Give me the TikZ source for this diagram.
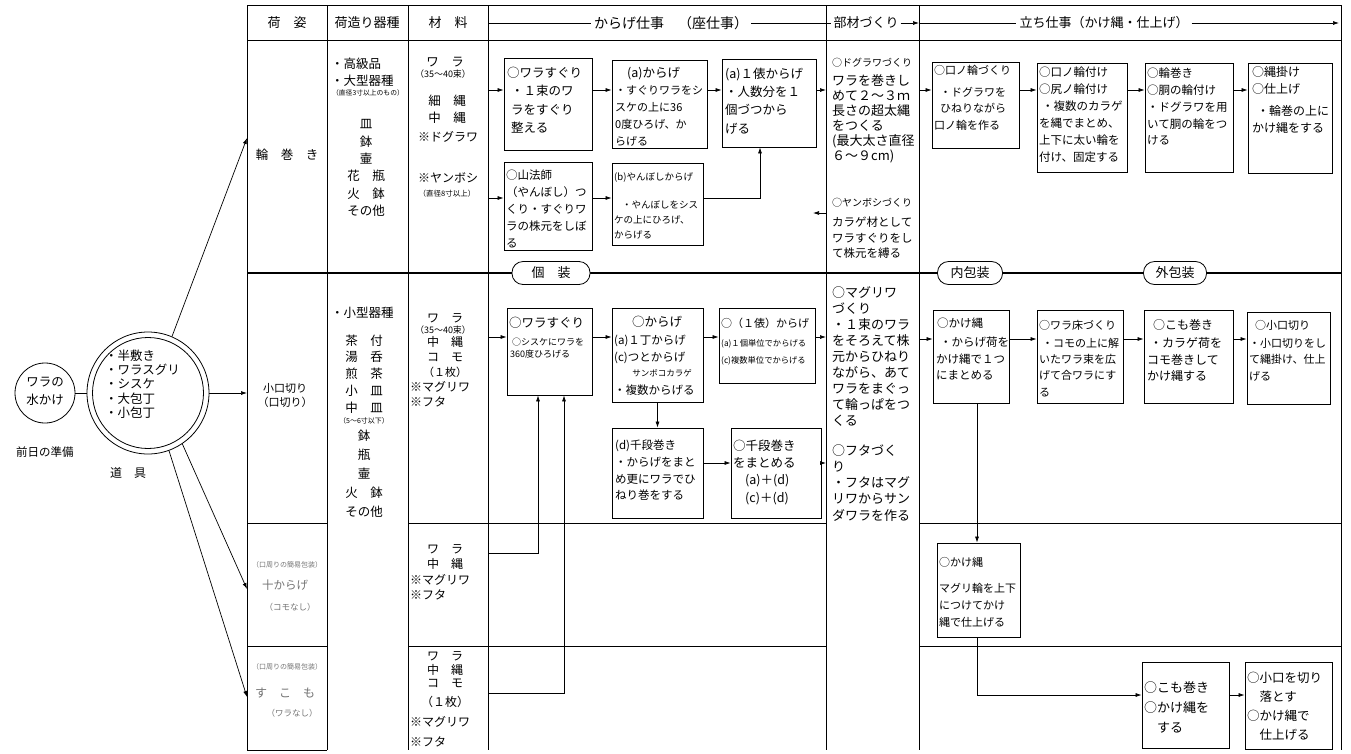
\documentclass[tikz,border=0pt]{standalone}
\usepackage{fontspec}
\setmainfont{Noto Sans CJK JP}
\usetikzlibrary{arrows.meta}
\newcommand\fs[2]{\fontsize{#1}{#2}\selectfont}
\newcounter{tn}
\newcommand\jt[3][]{\stepcounter{tn}\node[txt,#1] (t\arabic{tn}) at (#2) {#3};}
\newcommand\jb[5]{\node[bx,minimum width={(#4-#2)*1pt},minimum height={(#5-#3)*1pt}] (#1) at ({(#2+#4)/2},{(#3+#5)/2}) {};}
\tikzset{
 ln/.style={line width=0.7pt},
 thk/.style={line width=1.8pt},
 arr/.style={line width=0.7pt,-{Latex[length=6pt,width=4pt]}},
 bx/.style={draw,line width=0.8pt,rectangle,inner sep=0pt},
 txt/.style={inner sep=0pt,font=\fs{12}{15}},
 tl/.style={anchor=north west,align=left},
 oval/.style={draw,fill=white,line width=0.8pt,rounded corners=11pt,minimum height=23pt,inner sep=0pt,font=\fs{13}{15}},
 gr/.style={text=black!55}
}
\begin{document}
\begin{tikzpicture}[x=1pt,y=-1pt]
\useasboundingbox (0,0) rectangle (1351,753);
% ---------- grid ----------
\draw[ln] (247,5) -- (1341,5);
\draw[ln] (247,40) -- (1341,40);
\draw[ln] (247,523) -- (327,523);
\draw[ln] (408,523) -- (826,523);
\draw[ln] (919,523) -- (1341,523);
\draw[ln] (247,646) -- (327,646);
\draw[ln] (408,646) -- (826,646);
\draw[ln] (919,646) -- (1341,646);
\draw[ln] (247,750) -- (327,750);
\foreach \xx in {247,327,408,488,826,919,1341} {\draw[ln] (\xx,5) -- (\xx,750);}
\draw[thk] (247,273) -- (1341,273);
% ---------- coordinates ----------
\coordinate (cM) at (488,0);
\coordinate (cK) at (826,0);
\coordinate (cB) at (919,0);
\coordinate (hy) at (0,23);
\coordinate (hend) at (1339,23);
\coordinate (yA) at (0,90);
\coordinate (yB) at (0,198);
\coordinate (yC) at (0,337);
\coordinate (yD) at (0,463);
\coordinate (yE) at (0,339);
\coordinate (yF) at (0,695);
\coordinate (yG) at (0,553);
\coordinate (yH) at (0,693);
\coordinate (xEC) at (760,0);
\coordinate (xJ1) at (538,0);
\coordinate (xJ2) at (564,0);
\coordinate (xS) at (977,0);
\coordinate (ya) at (813,213);
\coordinate (r1) at (247,138);
\coordinate (r2) at (247,393);
\coordinate (r3) at (247,589);
\coordinate (r4) at (247,697);
% ---------- header ----------
\jt[font=\fs{13}{15}]{287,23}{荷　姿}
\jt[font=\fs{13}{15}]{367,23}{荷造り器種}
\jt[font=\fs{13}{15}]{448,23}{材　料}
\node[txt,font=\fs{14}{16},inner sep=3pt] (hk) at (671,23) {からげ仕事　（座仕事）};
\draw[ln] (cM|-hy) -- (hk.west);
\draw[ln] (hk.east) -- (cK|-hy);
\node[txt,font=\fs{13}{15},inner sep=2pt] (hb) at (866,23) {部材づくり};
\draw[ln] (cK|-hy) -- (hb.west);
\draw[arr] (hb.east) -- (cB|-hy);
\node[txt,font=\fs{13}{15},inner sep=3pt] (ht) at (1104,23) {立ち仕事（かけ縄・仕上げ）};
\draw[ln] (cB|-hy) -- (ht.west);
\draw[arr] (ht.east) -- (hend);
% ---------- left: circles ----------
\node[circle,draw,line width=0.8pt,minimum size=60pt,inner sep=0pt] (wc) at (45,393) {};
\jt[align=center,font=\fs{12.5}{18}]{45,391}{ワラの\\水かけ}
\jt[font=\fs{11.5}{14}]{45,452}{前日の準備}
\node[circle,draw,line width=0.8pt,minimum size=122pt,inner sep=0pt] (dc) at (148,393) {};
\node[circle,draw,line width=0.8pt,minimum size=111pt,inner sep=0pt] (dci) at (148,393) {};
\jt[tl,font=\fs{12.5}{14.3}]{105,349.5}{・半敷き\\・ワラスグリ\\・シスケ\\・大包丁\\・小包丁}
\jt[font=\fs{12}{14}]{128,473}{道　具}
\draw[ln] (wc.east) -- (dc.west);
\draw[arr] (dc.67) -- (r1);
\draw[arr] (dc.east) -- (r2);
\draw[arr] (dc.-56) -- (r3);
\draw[arr] (dc.-70) -- (r4);
% ---------- row 1 : 輪巻き ----------
\jt[font=\fs{12.5}{15}]{287,155}{輪　巻　き}
\jt[tl,font=\fs{12.5}{17}]{331,57.4}{・高級品\\・大型器種}
\jt[font=\fs{6.8}{8}]{368,93}{（直径3寸以上のもの）}
\jt[align=center,anchor=north,font=\fs{12.5}{17.4}]{366,119.4}{皿\\鉢\\壷\\花　瓶\\火　鉢\\その他}
\jt[font=\fs{12.5}{15}]{445,62}{ワ　ラ}
\jt[font=\fs{9}{10}]{443,74}{（35～40束）}
\jt[align=center,anchor=north,font=\fs{12.5}{17}]{447,94.4}{細　縄\\中　縄}
\jt[font=\fs{12}{15}]{448,137}{※ドグラワ}
\jt[font=\fs{12}{15}]{448,178}{※ヤンボシ}
\jt[font=\fs{7.5}{9}]{447,194}{（直径8寸以上）}
\jb{A}{504}{58}{592}{150}
\jt[tl,font=\fs{12.5}{18.5}]{507,66.5}{○ワラすぐり\\\hspace*{4pt}・１束のワ\\\hspace*{4pt}ラをすぐり\\\hspace*{4pt}整える}
\jb{B}{612}{60}{707}{148}
\jt[tl,font=\fs{11}{17}]{615,67.5}{\hspace*{12pt}{\fs{12.5}{17}(a)からげ}\\・すぐりワラをシ\\スケの上に36\\0度ひろげ、か\\らげる}
\jb{C}{722}{59}{816}{147}
\jt[tl,font=\fs{12.5}{18.3}]{725,67.5}{(a)１俵からげ\\・人数分を１\\個づつから\\げる}
\jb{D}{504}{162}{592}{250}
\jt[tl,font=\fs{11.5}{16.8}]{506,170}{○山法師\\（やんぼし）つ\\くり・すぐりワ\\ラの株元をしぼ\\る}
\jb{E}{612}{163}{703}{245}
\jt[tl,font=\fs{9.5}{15}]{614,172.7}{(b)やんぼしからげ\\[13pt]\hspace*{8pt}・やんぼしをシス\\ケの上にひろげ、\\からげる}
\draw[arr] (cM|-yA) -- (A.west|-yA);
\draw[arr] (A.east|-yA) -- (B.west|-yA);
\draw[arr] (B.east|-yA) -- (C.west|-yA);
\draw[arr] (C.east|-yA) -- (cK|-yA);
\draw[arr] (cM|-yB) -- (D.west|-yB);
\draw[arr] (D.east|-yB) -- (E.west|-yB);
\draw[arr] (E.east|-yB) -| (C.south-|xEC);
\draw[arr] (cK|-ya) -- (ya);
% 部材づくり row 1
\jt[tl,font=\fs{10}{15}]{832,57.5}{○ドグラワづくり}
\jt[tl,font=\fs{13}{15}]{832,74.2}{ワラを巻きし\\めて２～３ｍ\\長さの超太縄\\をつくる\\(最大太さ直径\\６～９cm)}
\jt[tl,font=\fs{10}{15}]{832,197.5}{○ヤンボシづくり}
\jt[tl,font=\fs{11.5}{15.5}]{832,216.8}{カラゲ材として\\ワラすぐりをし\\て株元を縛る}
% 立ち仕事 row 1
\jb{F}{932}{62}{1019}{148}
\jt[tl,font=\fs{11}{16.5}]{934,65}{○口ノ輪づくり\\[5.5pt]\hspace*{6pt}・ドグラワを\\\hspace*{6pt}ひねりながら\\口ノ輪を作る}
\jb{G}{1037}{63}{1127}{172}
\jt[tl,font=\fs{11.5}{17}]{1039,66.8}{○口ノ輪付け\\○尻ノ輪付け\\\hspace*{3pt}・複数のカラゲ\\を縄でまとめ、\\上下に太い輪を\\付け、固定する}
\jb{H}{1145}{63}{1233}{172}
\jt[tl,font=\fs{11.5}{16.8}]{1147,67.8}{○輪巻き\\○胴の輪付け\\・ドグラワを用\\いて胴の輪をつ\\ける}
\jb{I}{1248}{63}{1332}{173}
\jt[tl,font=\fs{12}{17}]{1252,66.6}{○縄掛け\\○仕上げ\\[5pt]\hspace*{5pt}・輪巻の上に\\かけ縄をする}
\draw[arr] (cB|-yA) -- (F.west|-yA);
\draw[arr] (F.east|-yA) -- (G.west|-yA);
\draw[arr] (G.east|-yA) -- (H.west|-yA);
\draw[arr] (H.east|-yA) -- (I.west|-yA);
% ---------- row 2 : 小口切り ----------
\jt[align=center,font=\fs{11}{14}]{285,395}{小口切り\\（口切り）}
\jt[tl,font=\fs{12.5}{15}]{331,306.4}{・小型器種}
\jt[align=center,anchor=north,font=\fs{12.5}{16.75}]{364,334.4}{茶　付\\湯　呑\\煎　茶\\小　皿\\中　皿}
\jt[font=\fs{7}{8}]{364,421}{（5～6寸以下）}
\jt[align=center,anchor=north,font=\fs{12.5}{19}]{364,429.4}{鉢\\瓶\\壷\\火　鉢\\その他}
\jt[font=\fs{12}{15}]{445,318}{ワ　ラ}
\jt[font=\fs{9}{10}]{443,330}{（35～40束）}
\jt[font=\fs{12}{15}]{445,342}{中　縄}
\jt[font=\fs{12}{15}]{445,357}{コ　モ}
\jt[font=\fs{11}{15}]{445,372}{（１枚）}
\jt[tl,font=\fs{12}{15}]{410,381.6}{※マグリワ\\※フタ}
\jb{J}{507}{308}{592}{395}
\jt[tl,font=\fs{12.5}{15}]{509,317.4}{○ワラすぐり}
\jt[tl,font=\fs{9}{11.5}]{510,338}{\hspace*{2pt}○シスケにワラを\\360度ひろげる}
\jb{K}{612}{308}{703}{402}
\jt[font=\fs{12.5}{15}]{657,322}{○からげ}
\jt[tl,font=\fs{11.5}{17}]{614,334.8}{(a)１丁からげ\\(c)つとからげ}
\jt[font=\fs{8.5}{10}]{662,373}{サンボコカラゲ}
\jt[tl,font=\fs{11.5}{15}]{614,384.8}{・複数からげる}
\jb{L}{719}{308}{815}{383}
\jt[tl,font=\fs{11}{15}]{721,318}{○（１俵）からげ}
\jt[tl,font=\fs{8.3}{17}]{721,339.3}{(a)１個単位でからげる\\(c)複数単位でからげる}
\jb{M}{612}{428}{703}{518}
\jt[tl,font=\fs{11.5}{16.7}]{615,439.8}{(d)千段巻き\\・からげをまと\\め更にワラでひ\\ねり巻をする}
\jb{N}{731}{428}{821}{518}
\jt[tl,font=\fs{12.5}{17.3}]{733,439.4}{○千段巻き\\をまとめる\\\hspace*{12pt}(a)＋(d)\\\hspace*{12pt}(c)＋(d)}
\draw[arr] (cM|-yC) -- (J.west|-yC);
\draw[arr] (J.east|-yC) -- (K.west|-yC);
\draw[arr] (K.east|-yC) -- (L.west|-yC);
\draw[arr] (L.east|-yC) -- (cK|-yC);
\draw[arr] (K.south) -- (M.north);
\draw[arr] (M.east|-yD) -- (N.west|-yD);
\draw[arr] (N.east|-yD) -- (cK|-yD);
\draw[arr] (cM|-yG) -| (J.south-|xJ1);
\draw[arr] (cM|-yH) -| (J.south-|xJ2);
% 部材づくり rows 2-4
\jt[tl,font=\fs{13}{16}]{832,286.2}{○マグリワ\\づくり\\・１束のワラ\\をそろえて株\\元からひねり\\ながら、あて\\ワラをまぐっ\\て輪っぱをつ\\くる}
\jt[tl,font=\fs{13}{16.2}]{832,444.2}{○フタづく\\り\\・フタはマグ\\リワからサン\\ダワラを作る}
% 立ち仕事 row 2
\jb{O}{933}{310}{1009}{403}
\jt[tl,font=\fs{11.5}{16.5}]{936,317.8}{\hspace*{1pt}○かけ縄\\[2.5pt]\hspace*{4pt}・からげ荷を\\かけ縄で１つ\\にまとめる}
\jb{P}{1037}{310}{1123}{403}
\jt[tl,font=\fs{11}{16.3}]{1039,320}{○ワラ床づくり\\[1.5pt]\hspace*{3pt}・コモの上に解\\いたワラ束を広\\げて合ワラにす\\る}
\jb{Q}{1144}{310}{1233}{403}
\jt[tl,font=\fs{12}{16.5}]{1147,319.6}{\hspace*{6pt}○こも巻き\\[1.5pt]\hspace*{3pt}・カラゲ荷を\\コモ巻きして\\かけ縄する}
\jb{R}{1247}{312}{1330}{404}
\jt[tl,font=\fs{11}{16.5}]{1249,320}{\hspace*{6pt}○小口切り\\[1.5pt]・小口切りをし\\て縄掛け、仕上\\げる}
\draw[arr] (cB|-yE) -- (O.west|-yE);
\draw[arr] (O.east|-yE) -- (P.west|-yE);
\draw[arr] (P.east|-yE) -- (Q.west|-yE);
\draw[arr] (Q.east|-yE) -- (R.west|-yE);
% ---------- row 3 ----------
\jt[font=\fs{7}{8},gr]{287,565}{（口周りの簡易包装）}
\jt[font=\fs{11.5}{14},gr]{285,585}{十からげ}
\jt[font=\fs{8.5}{10},gr]{290,607}{（コモなし）}
\jt[align=center,anchor=north,font=\fs{12}{14.7}]{445,544.6}{ワ　ラ\\中　縄}
\jt[tl,font=\fs{12}{14.5}]{410,574.6}{※マグリワ\\※フタ}
\jb{S}{937}{543}{1020}{637}
\jt[tl,font=\fs{11}{17}]{939,557}{○かけ縄\\[9pt]マグリ輪を上下\\につけてかけ\\縄で仕上げる}
\draw[arr] (O.south-|xS) -- (S.north-|xS);
% ---------- row 4 ----------
\jt[font=\fs{7}{8},gr]{287,667}{（口周りの簡易包装）}
\jt[font=\fs{12}{14},gr]{285,693}{す　こ　も}
\jt[font=\fs{8.5}{10},gr]{292,713}{（ワラなし）}
\jt[align=center,anchor=north,font=\fs{12}{13.3}]{445,651.6}{ワ　ラ\\中　縄\\コ　モ}
\jt[font=\fs{12}{15}]{445,702}{（１枚）}
\jt[tl,font=\fs{12}{20}]{410,716.6}{※マグリワ\\※フタ}
\jb{T}{1142}{662}{1229}{748}
\jt[tl,font=\fs{13}{20}]{1144,681.2}{○こも巻き\\○かけ縄を\\\hspace*{13pt}する}
\jb{U}{1245}{662}{1332}{749}
\jt[tl,font=\fs{12.5}{19}]{1247,672.4}{○小口を切り\\\hspace*{12.5pt}落とす\\○かけ縄で\\\hspace*{12.5pt}仕上げる}
\draw[arr] (S.south-|xS) |- (T.west|-yF);
\draw[arr] (T.east|-yF) -- (U.west|-yF);
% ---------- ovals on the thick line ----------
\node[oval,minimum width=78pt] (ko) at (551,273) {個　装};
\node[oval,minimum width=65pt] (nk) at (970,273) {内包装};
\node[oval,minimum width=63pt] (gk) at (1175,273) {外包装};
\end{tikzpicture}
\end{document}
